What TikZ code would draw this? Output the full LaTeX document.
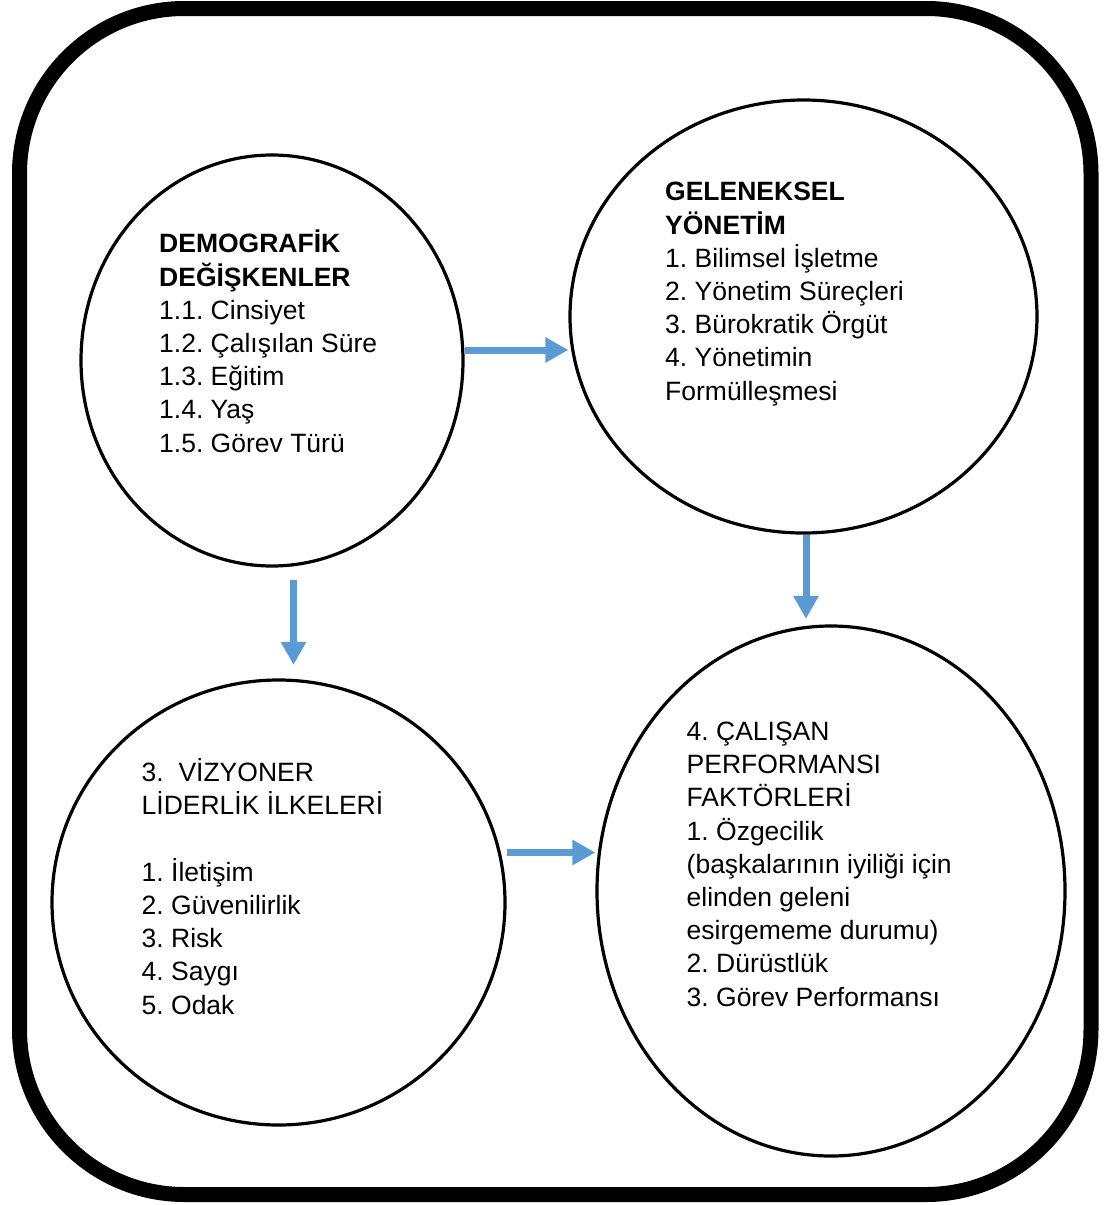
\documentclass[tikz,border=0pt]{standalone}
\usepackage{fontspec}
\setmainfont{Liberation Sans}
\frenchspacing
\usetikzlibrary{shapes.geometric}
\usetikzlibrary{arrows.meta}
\definecolor{flowblue}{HTML}{5B9BD5}

\begin{document}
\begin{tikzpicture}[x=1pt,y=-1pt,
  ring/.style={draw=black,line width=3.2pt,ellipse,inner sep=0pt},
  flow/.style={draw=flowblue,line width=7pt,-{Triangle[width=24pt,length=23pt]}},
  lbl/.style={anchor=base west,align=left,inner sep=0pt,font=\fontsize{26.5}{33.2}\selectfont}]
\useasboundingbox (0,0) rectangle (1106,1205);
\draw[line width=15pt,rounded corners=165pt] (19.5,8.5) rectangle (1091,1194.5);

% circles
\node[ring,minimum width=382pt,minimum height=411pt] (dem) at (272,360.5) {};
\node[ring,minimum width=467pt,minimum height=433pt] (gel) at (803.5,316.5) {};
\node[ring,minimum width=453pt,minimum height=445pt] (viz) at (278.5,902.5) {};
\node[ring,minimum width=468pt,minimum height=530pt] (cal) at (831,891) {};

% texts (placed at the baseline of their last line)
\node[lbl] (demtxt) at (159,452) {\textbf{DEMOGRAFİK}\\\textbf{DEĞİŞKENLER}\\1.1. Cinsiyet\\1.2. Çalışılan Süre\\1.3. Eğitim\\1.4. Yaş\\1.5. Görev Türü};
\node[lbl] (geltxt) at (665,400) {\textbf{GELENEKSEL}\\\textbf{YÖNETİM}\\1. Bilimsel İşletme\\2. Yönetim Süreçleri\\3. Bürokratik Örgüt\\4. Yönetimin\\Formülleşmesi};
\node[lbl] (viztxt) at (141.5,1014) {3.\ \ VİZYONER\\LİDERLİK İLKELERİ\\[33.2pt]1. İletişim\\2. Güvenilirlik\\3. Risk\\4. Saygı\\5. Odak};
\node[lbl] (caltxt) at (686.5,1006) {4. ÇALIŞAN\\PERFORMANSI\\FAKTÖRLERİ\\1. Özgecilik\\(başkalarının iyiliği için\\elinden geleni\\esirgememe durumu)\\2. Dürüstlük\\3. Görev Performansı};

% arrows
\draw[flow] (dem.east |- 0,350) -- (gel.west |- 0,350);
\draw[flow,shorten <=12.5pt,shorten >=13.5pt] (dem.south -| 293.5,0) -- (viz.north -| 293.5,0);
\draw[flow,shorten >=5.5pt] (gel.south -| 806,0) -- (cal.north -| 806,0);
\draw[flow] (viz.east |- 0,852.5) -- (cal.west |- 0,852.5);

\end{tikzpicture}
\end{document}
